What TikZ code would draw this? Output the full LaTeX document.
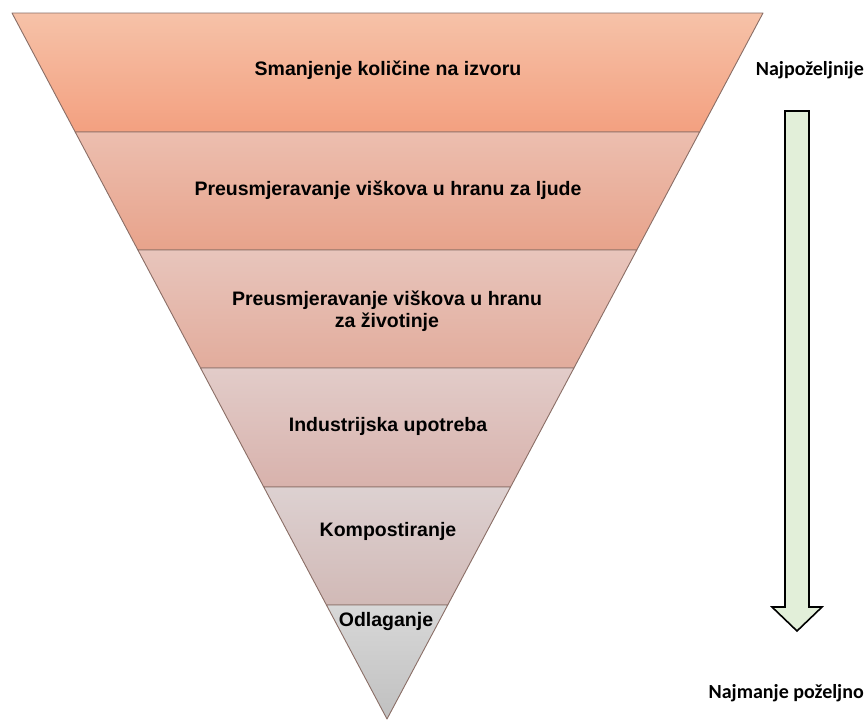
\documentclass[tikz,border=0pt]{standalone}
\usepackage{fontspec}
\setmainfont{Liberation Sans}
\newfontfamily\calibrifont{Carlito}
\usetikzlibrary{calc}
\definecolor{edgec}{HTML}{8A6E66}
\definecolor{arrowfill}{HTML}{E2EFD9}
\definecolor{aT}{HTML}{F6C2A8}\definecolor{aB}{HTML}{F3A080}
\definecolor{bT}{HTML}{ECBEAF}\definecolor{bB}{HTML}{E8A38B}
\definecolor{cT}{HTML}{E8C5BC}\definecolor{cB}{HTML}{E2AC9C}
\definecolor{dT}{HTML}{E2CCC9}\definecolor{dB}{HTML}{D8B2AC}
\definecolor{eT}{HTML}{DDD1D1}\definecolor{eB}{HTML}{D1B9B6}
\definecolor{fT}{HTML}{D8D8D8}\definecolor{fB}{HTML}{C0C0C0}
\tikzset{
  band/.style={draw=edgec, line width=0.9pt, line join=round},
  lbl/.style={font=\bfseries\fontsize{19.5}{22}\selectfont, text=black, align=center, inner sep=0pt},
  sidelbl/.style={font=\calibrifont\bfseries\fontsize{20}{23}\selectfont, text=black, inner sep=0pt},
}
\begin{document}
\begin{tikzpicture}[x=1pt,y=-1pt]
\useasboundingbox (0,0) rectangle (867,720);
\fill[white] (0,0) rectangle (867,720);
\coordinate (L) at (12,13);
\coordinate (R) at (763,13);
\coordinate (A) at (387,719);
\foreach \n/\t in {1/0.1686,2/0.3357,3/0.5028,4/0.6714,5/0.8385}{
  \coordinate (L\n) at ($(L)!\t!(A)$);
  \coordinate (R\n) at ($(R)!\t!(A)$);
}
\shade[band, top color=aT, bottom color=aB] (L) -- (R) -- (R1) -- (L1) -- cycle;
\shade[band, top color=bT, bottom color=bB] (L1) -- (R1) -- (R2) -- (L2) -- cycle;
\shade[band, top color=cT, bottom color=cB] (L2) -- (R2) -- (R3) -- (L3) -- cycle;
\shade[band, top color=dT, bottom color=dB] (L3) -- (R3) -- (R4) -- (L4) -- cycle;
\shade[band, top color=eT, bottom color=eB] (L4) -- (R4) -- (R5) -- (L5) -- cycle;
\shade[band, top color=fT, bottom color=fB] (L5) -- (R5) -- (A) -- cycle;

\node[lbl] (t1) at (388,70) {Smanjenje količine na izvoru};
\node[lbl] (t2) at (388,190) {Preusmjeravanje viškova u hranu za ljude};
\node[lbl] (t3) at (387,311) {Preusmjeravanje viškova u hranu\\za životinje};
\node[lbl] (t4) at (388,426) {Industrijska upotreba};
\node[lbl] (t5) at (388,531) {Kompostiranje};
\node[lbl] (t6) at (386,621) {Odlaganje};

\node[sidelbl, anchor=base east] (top) at (864,75) {Najpoželjnije};
\node[sidelbl, anchor=base east] (bot) at (864,698) {Najmanje poželjno};

\draw[fill=arrowfill, draw=black, line width=1.6pt, line join=miter]
  (785,111) coordinate (a1) -- (809,111) -- (809,607) -- (822,607) -- (797,631) coordinate (tip)
  -- (772,607) -- (785,607) -- cycle;
\end{tikzpicture}
\end{document}
